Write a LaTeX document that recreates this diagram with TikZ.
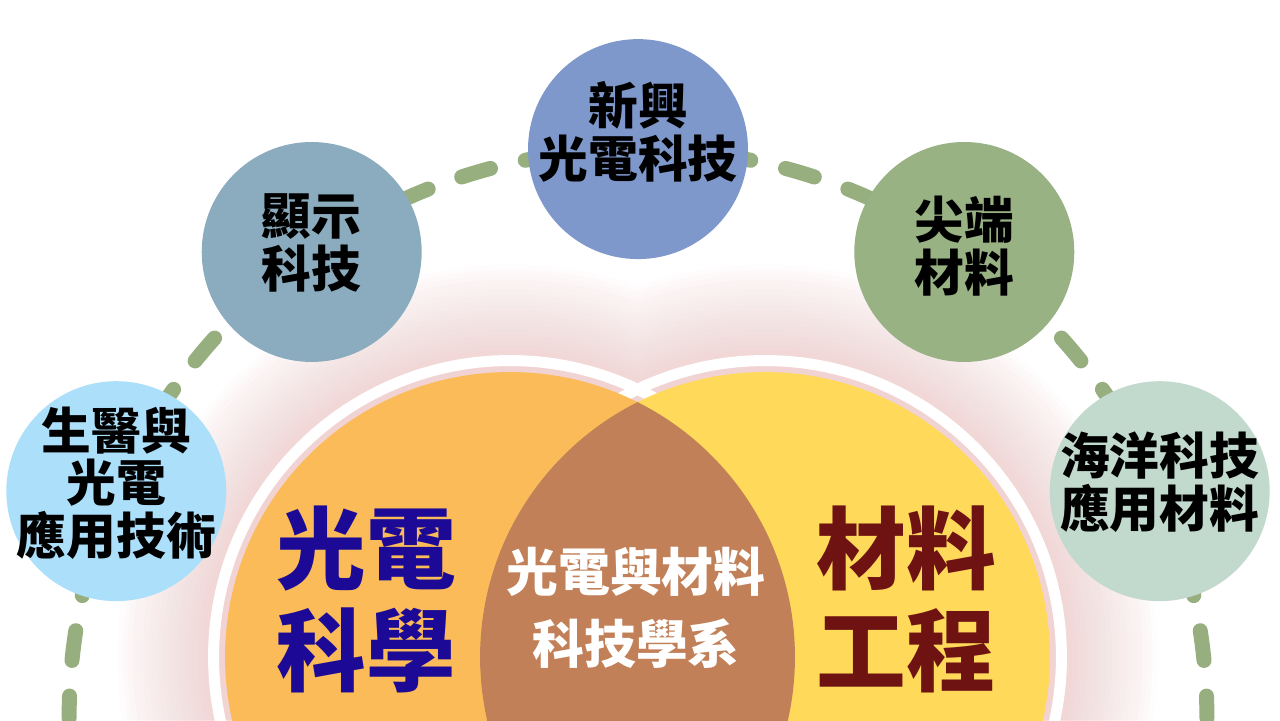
\documentclass[tikz,border=0pt]{standalone}
\usepackage{fontspec}
\newfontfamily\cjk{Noto Sans CJK TC}
\usepackage{xcolor}
\usetikzlibrary{calc, backgrounds}

\definecolor{bioFill}{RGB}{172,223,250}
\definecolor{dispFill}{RGB}{139,172,190}
\definecolor{newFill}{RGB}{127,152,203}
\definecolor{advFill}{RGB}{152,178,132}
\definecolor{oceanFill}{RGB}{194,217,206}
\definecolor{optoFill}{RGB}{251,187,88}
\definecolor{matFill}{RGB}{254,217,90}
\definecolor{lensFill}{RGB}{193,128,88}
\definecolor{trailGreen}{RGB}{151,174,127}
\definecolor{glowPink}{RGB}{242,118,118}
\definecolor{optoText}{RGB}{28,10,150}
\definecolor{matText}{RGB}{110,18,18}

\begin{document}
\begin{tikzpicture}[
  x=0.02cm, y=0.02cm,
  bubble/.style={circle, minimum size=4.4cm, inner sep=0pt},
  topic/.style={align=center, text=black,
    font=\cjk\bfseries\fontsize{28.3pt}{30pt}\selectfont},
  major/.style={circle, minimum size=11.4cm, inner sep=0pt},
  bigtopic/.style={align=center,
    font=\cjk\bfseries\fontsize{51pt}{58pt}\selectfont},
  midtopic/.style={align=center, text=white,
    font=\cjk\bfseries\fontsize{29.5pt}{40.8pt}\selectfont},
  trail/.style={draw=trailGreen, line width=0.3cm, line cap=round,
    dash pattern=on 0.6cm off 0.714cm, dash phase=0.957cm},
  rim/.style={draw=white, line width=0.22cm}
]
\useasboundingbox (0,0) rectangle (1280,720);

% Centres
\coordinate (hub) at (638,2);
\coordinate (cL) at (510,63);
\coordinate (cR) at (765,63);

% Research topics on the arc
\node[bubble, fill=bioFill] (bio) at ($(hub)+(156.5:11.38cm)$) {};
\node[bubble, fill=dispFill] (disp) at ($(hub)+(125:11.38cm)$) {};
\node[bubble, fill=newFill] (newtech) at ($(hub)+(90:11.38cm)$) {};
\node[bubble, fill=advFill] (adv) at ($(hub)+(55:11.38cm)$) {};
\node[bubble, fill=oceanFill] (ocean) at ($(hub)+(23.5:11.38cm)$) {};

\node[topic] (bioT) at ([yshift=0.16cm]bio.center) {生醫與\\光電\\應用技術};
\node[topic] (dispT) at ([yshift=0.18cm]disp.center) {顯示\\科技};
\node[topic] (newtechT) at ([yshift=0.34cm]newtech.center) {新興\\光電科技};
\node[topic] (advT) at ([yshift=0.12cm]adv.center) {尖端\\材料};
\node[topic] (oceanT) at ([yshift=0.18cm]ocean.center) {海洋科技\\應用材料};

% Glow and dashed arc behind
\begin{pgfonlayer}{background}
  \fill[white] (0,0) rectangle (1280,720);
  \foreach \k [evaluate=\k as \rr using 5.85+0.1*\k] in {1,...,20} {
    \fill[glowPink, opacity=0.017] (cL) circle[radius=\rr cm] (cR) circle[radius=\rr cm];
  }
  \draw[trail] (newtech.center) arc[start angle=90, end angle=180, radius=11.38cm];
  \draw[trail] (newtech.center) arc[start angle=90, end angle=0, radius=11.38cm];
\end{pgfonlayer}

% Two fields
\draw[rim] (cL) circle[radius=5.93cm];
\draw[rim] (cR) circle[radius=5.93cm];
\node[major, fill=optoFill] (opto) at (cL) {};
\node[major, fill=matFill] (mat) at (cR) {};
\begin{scope}
  \clip (cL) circle[radius=5.7cm];
  \fill[lensFill] (cR) circle[radius=5.7cm];
\end{scope}

\node[bigtopic, text=optoText] (optoT) at (366,121) {光電\\科學};
\node[bigtopic, text=matText] (matT) at (906,121) {材料\\工程};
\node[midtopic] (deptT) at (636,112) {光電與材料\\科技學系};

\end{tikzpicture}
\end{document}
